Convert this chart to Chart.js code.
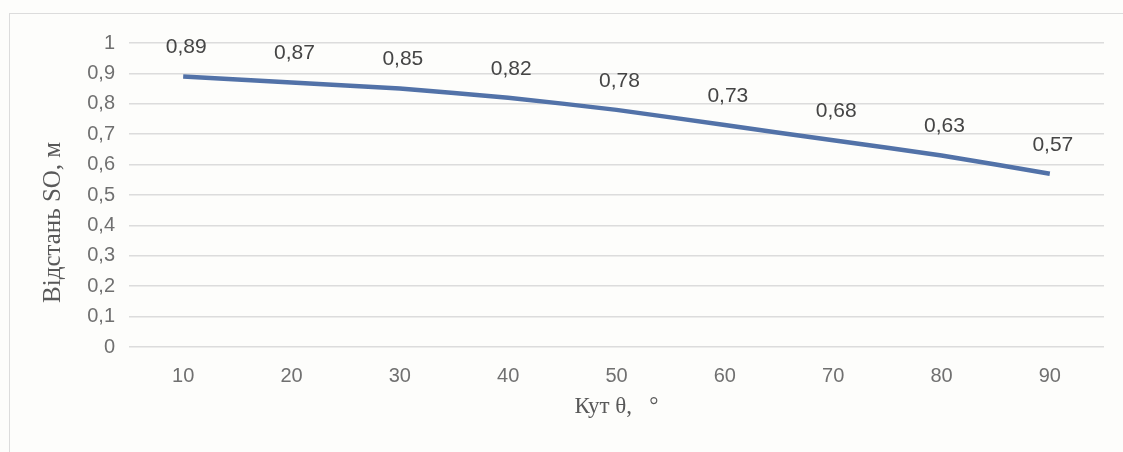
<!DOCTYPE html>
<html><head><meta charset="utf-8">
<script src="https://cdn.jsdelivr.net/npm/chart.js@4/dist/chart.umd.min.js"></script>
<style>
html,body{margin:0;padding:0;background:#fdfdfb;}
#wrap{position:relative;width:1123px;height:452px;overflow:hidden;}
#frame{position:absolute;left:9px;top:13px;width:1200px;height:500px;border-left:1px solid #dcdcdc;border-top:1px solid #dcdcdc;}
canvas{position:absolute;left:0;top:0;}
</style></head>
<body><div id="wrap"><div id="frame"></div><canvas id="c" width="1123" height="452"></canvas></div>
<script>
const categories = ['10','20','30','40','50','60','70','80','90'];
const distances = [0.89, 0.87, 0.85, 0.82, 0.78, 0.73, 0.68, 0.63, 0.57];
const valueLabels = ['0,89','0,87','0,85','0,82','0,78','0,73','0,68','0,63','0,57'];
const yTickLabels = {0:'0',0.1:'0,1',0.2:'0,2',0.3:'0,3',0.4:'0,4',0.5:'0,5',0.6:'0,6',0.7:'0,7',0.8:'0,8',0.9:'0,9',1:'1'};
const yTitle = 'Відстань SO, м';
const xTitle = 'Кут θ,   °';

const labelPlugin = {
  id:'valueLabels',
  afterDatasetsDraw(chart){
    const ctx = chart.ctx;
    const meta = chart.getDatasetMeta(0);
    ctx.save();
    ctx.font = '21px "Liberation Sans", Arial, sans-serif';
    ctx.fillStyle = '#454545';
    ctx.textAlign = 'center';
    ctx.textBaseline = 'middle';
    meta.data.forEach((pt,i)=>{
      ctx.fillText(valueLabels[i], pt.x + 3, pt.y - 29);
    });
    // y axis title (drawn manually to match its off-centre placement)
    const ys = chart.scales.y;
    ctx.font = '25px "Liberation Serif", "Times New Roman", serif';
    ctx.fillStyle = '#595959';
    ctx.translate(53, ys.getPixelForValue(0.41));
    ctx.rotate(-Math.PI/2);
    ctx.fillText(yTitle, 0, 0);
    ctx.restore();
  }
};

new Chart(document.getElementById('c'), {
  type:'line',
  data:{labels:categories, datasets:[{data:distances, borderColor:'#5272a8', borderWidth:4.5, pointRadius:0, tension:0.15, fill:false}]},
  options:{
    responsive:false, animation:false,
    layout:{padding:{left:10,right:19,top:43,bottom:0}},
    plugins:{legend:{display:false}, tooltip:{enabled:false}},
    scales:{
      x:{
        offset:true,
        grid:{display:false, drawTicks:false},
        border:{display:false},
        ticks:{color:'#707070', font:{family:'"Liberation Sans", Arial, sans-serif', size:20}, padding:17},
        title:{display:true, text:xTitle, color:'#595959', font:{family:'"Liberation Serif", "Times New Roman", serif', size:23}, padding:{top:0,bottom:31}},
        afterFit(s){ s.height = 105; }
      },
      y:{
        min:0, max:1,
        grid:{color:'#dcdcdc', lineWidth:1.5, drawTicks:false},
        border:{display:false},
        ticks:{stepSize:0.1, color:'#707070', font:{family:'"Liberation Sans", Arial, sans-serif', size:20}, padding:14,
          callback:(v)=>{ const k=Math.round(v*10)/10; return yTickLabels[k]; }},
        afterFit(s){ s.width = 119; }
      }
    }
  },
  plugins:[labelPlugin]
});
</script></body></html>
